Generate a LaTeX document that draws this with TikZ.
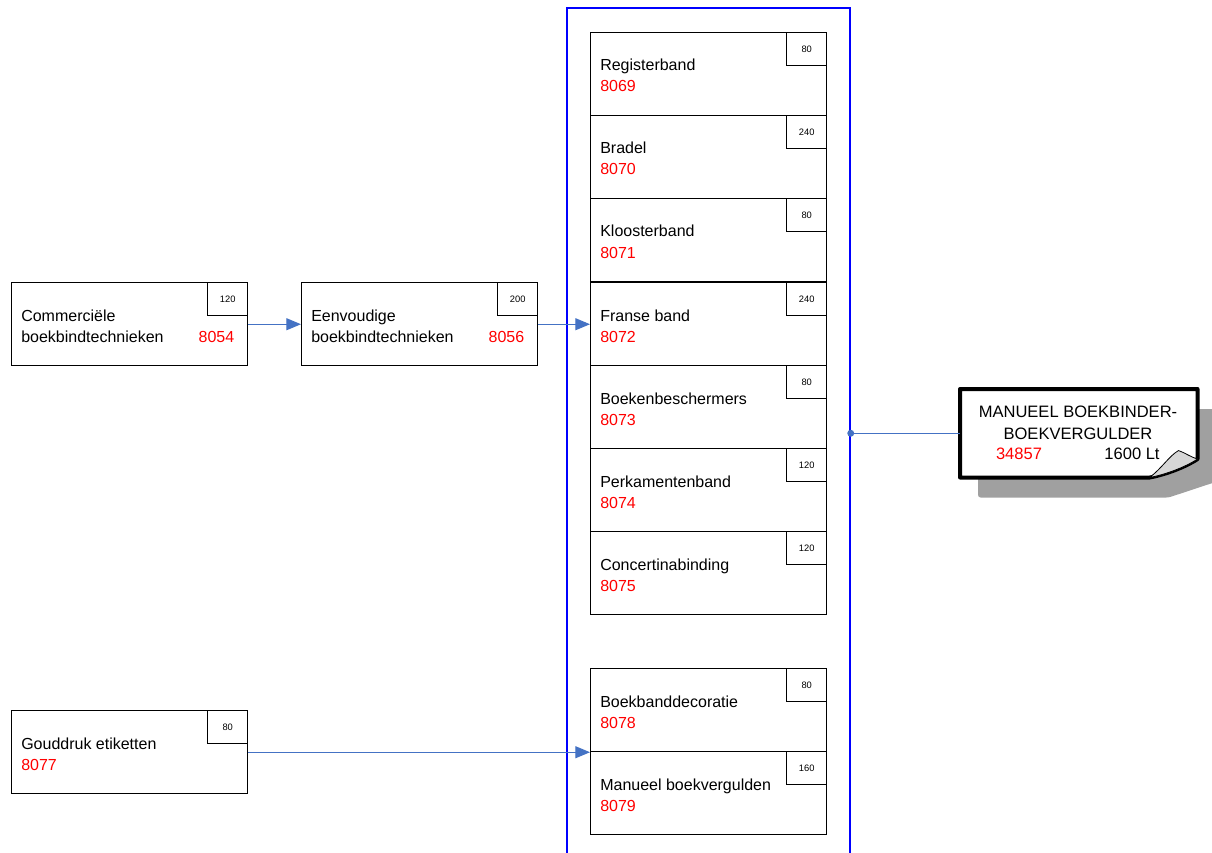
\documentclass[tikz,border=0pt]{standalone}
\usepackage{fontspec}
\setmainfont{Liberation Sans}
\usetikzlibrary{arrows.meta,calc}
\definecolor{conncol}{RGB}{68,114,196}
\definecolor{numred}{RGB}{255,0,0}
\definecolor{shadowgray}{RGB}{160,160,160}
\definecolor{foldgray}{RGB}{215,215,215}
\tikzset{
  course/.style={draw=black, line width=1.1pt, fill=white, minimum width=177pt, minimum height=62.25pt, inner sep=0pt, anchor=north west},
  hours/.style={draw=black, line width=1.1pt, fill=white, minimum width=30pt, minimum height=24.75pt, inner sep=0pt, anchor=north east, font=\fontsize{7}{8}\selectfont},
  lbl/.style={anchor=base west, inner sep=0pt, font=\fontsize{12}{14}\selectfont},
  num/.style={lbl, text=numred},
  notetxt/.style={anchor=base, inner sep=0pt, font=\fontsize{12.4}{14}\selectfont},
  conn/.style={draw=conncol, line width=0.8pt, -{Triangle[length=11pt,width=9pt]}},
  plainconn/.style={draw=conncol, line width=0.8pt},
  container/.style={draw=blue, line width=1.3pt, minimum width=212.25pt, minimum height=654pt, inner sep=0pt, anchor=north west},
}
\newcommand\coursebox[6]{%
  \node[course] (#1) at (#2,#3) {};
  \node[hours] (#1h) at (#1.north east) {#4};
  \node[lbl] (#1l) at ($(#1.north west)+(10,39)$) {#5};
  \node[num] (#1n) at ($(#1.north west)+(10,60)$) {#6};
}
\begin{document}
\begin{tikzpicture}[x=0.75pt,y=-0.75pt]
\useasboundingbox (0,0) rectangle (1212,852);
% container
\node[container] (grp) at (566,7) {};
% column boxes
\coursebox{reg}{590}{32}{80}{Registerband}{8069}
\coursebox{bra}{590}{115}{240}{Bradel}{8070}
\coursebox{klo}{590}{198}{80}{Kloosterband}{8071}
\coursebox{fra}{590}{282}{240}{Franse band}{8072}
\coursebox{bes}{590}{365}{80}{Boekenbeschermers}{8073}
\coursebox{per}{590}{448}{120}{Perkamentenband}{8074}
\coursebox{con}{590}{531}{120}{Concertinabinding}{8075}
\coursebox{dec}{590}{668}{80}{Boekbanddecoratie}{8078}
\coursebox{ver}{590}{751}{160}{Manueel boekvergulden}{8079}
\coursebox{gou}{11}{710}{80}{Gouddruk etiketten}{8077}
% two-line boxes
\node[course] (com) at (11,282) {};
\node[hours] (comh) at (com.north east) {120};
\node[lbl] (coml) at ($(com.north west)+(10,39)$) {Commerciële};
\node[lbl] (coml2) at ($(com.north west)+(10,60)$) {boekbindtechnieken};
\node[num, anchor=base east] (comn) at ($(com.north east)+(-14,60)$) {8054};
\node[course] (een) at (301,282) {};
\node[hours] (eenh) at (een.north east) {200};
\node[lbl] (eenl) at ($(een.north west)+(10,39)$) {Eenvoudige};
\node[lbl] (eenl2) at ($(een.north west)+(10,60)$) {boekbindtechnieken};
\node[num, anchor=base east] (eenn) at ($(een.north east)+(-14,60)$) {8056};
% note (occupation)
\node[minimum width=177.75pt, minimum height=66pt, inner sep=0pt, anchor=north west] (note) at (960,389) {};
\fill[shadowgray, rounded corners=2pt] ($(note.north west)+(18,20)$) -- ($(note.north east)+(18,20)$) -- ($(note.north east)+(18,93)$) -- ($(note.south east)+(-29,20)$) -- ($(note.south west)+(18,20)$) -- cycle;
\draw[line width=3pt, fill=white, line join=round] (note.north west) -- (note.north east) -- ($(note.north east)+(0,70)$) .. controls ($(note.north east)+(-12,78)$) and ($(note.south east)+(-32,-3)$) .. ($(note.south east)+(-48,0)$) -- (note.south west) -- cycle;
\filldraw[fill=foldgray, draw=black, line width=0.6pt] ($(note.south east)+(-48,0)$) .. controls ($(note.south east)+(-36,-9)$) and ($(note.south east)+(-28,-22)$) .. ($(note.south east)+(-19,-27)$) .. controls ($(note.south east)+(-13,-25)$) and ($(note.south east)+(-6,-20)$) .. ($(note.north east)+(0,70)$) .. controls ($(note.north east)+(-12,78)$) and ($(note.south east)+(-32,-3)$) .. ($(note.south east)+(-48,0)$) -- cycle;
\node[notetxt] (nt1) at (1078,417) {MANUEEL BOEKBINDER-};
\node[notetxt] (nt2) at (1078,439) {BOEKVERGULDER};
\node[notetxt, text=numred] (nt3) at (1019,459) {34857};
\node[notetxt] (nt4) at (1132,459) {1600 Lt};
% connectors
\draw[conn] (com.east) -- (een.west);
\draw[conn] (een.east) -- (fra.west);
\draw[conn] (gou.east) -- (gou.east -| dec.south west);
\draw[plainconn] (note.west -| grp.east) -- (note.west);
\fill[conncol] (note.west -| grp.east) circle (2.6pt);
\end{tikzpicture}
\end{document}
